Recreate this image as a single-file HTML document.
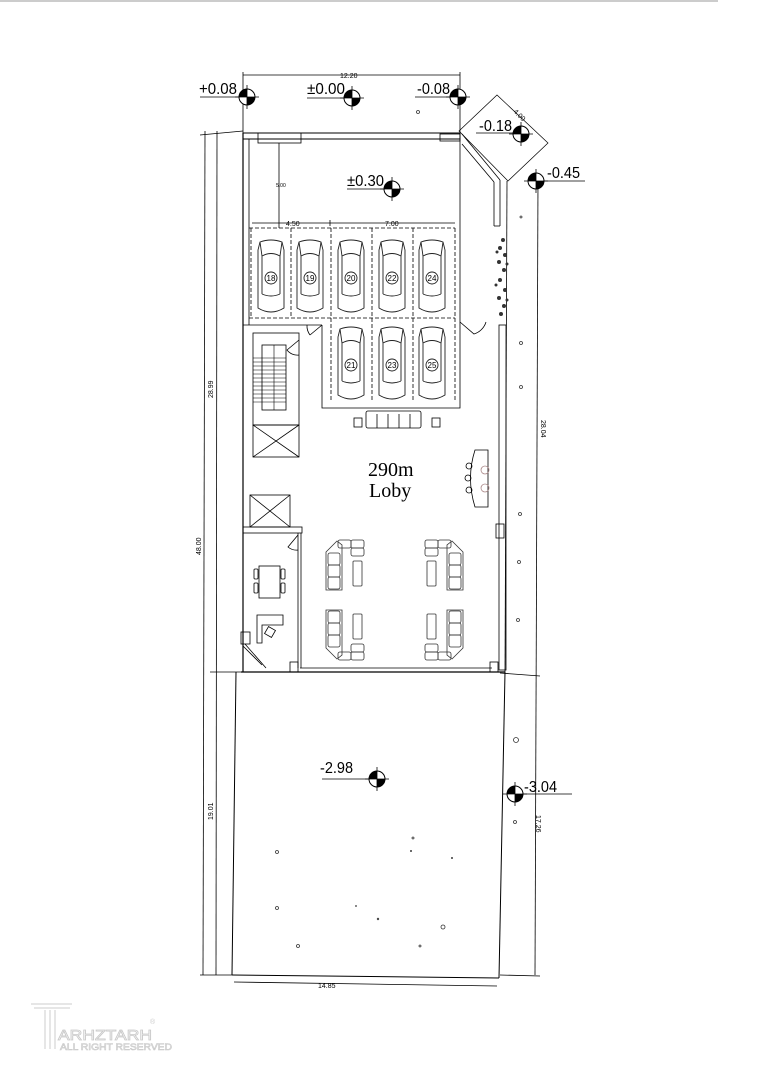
<!DOCTYPE html>
<html><head><meta charset="utf-8"><style>
html,body{margin:0;padding:0;background:#fff;}
svg{display:block;}
text{font-family:"Liberation Sans",sans-serif;fill:#000;}
</style></head><body>
<svg width="764" height="1080" viewBox="0 0 764 1080" xmlns="http://www.w3.org/2000/svg">
<defs>
<g id="car" fill="none" stroke="#222" stroke-width="0.9">
<path d="M-11,-36 Q0,-40 11,-36 L13,-28 L13,30 Q0,38 -13,30 L-13,-28 Z"/>
<path d="M-9,-22 Q0,-27 9,-22 M-9,-22 L-9,16 M9,-22 L9,16 M-9,16 Q0,20 9,16"/>
<path d="M-11,-36 L-9,-22 M11,-36 L9,-22"/>
<circle cx="0" cy="0" r="6"/>
</g>
<g id="mk">
<circle cx="0" cy="0" r="8" fill="#fff" stroke="#000" stroke-width="1"/>
<path d="M0,0 L0,-8 A8,8 0 0 0 -8,0 Z" fill="#000"/>
<path d="M0,0 L0,8 A8,8 0 0 0 8,0 Z" fill="#000"/>
<line x1="0" y1="-12" x2="0" y2="12" stroke="#000" stroke-width="0.8"/>
<line x1="-12" y1="0" x2="12" y2="0" stroke="#000" stroke-width="0.8"/>
</g>
<g id="sofa" fill="none" stroke="#333" stroke-width="0.8">
<path d="M326,552 L337,541 L342,545 L342,590 L326,590 Z"/>
<rect x="328" y="553" width="12" height="12" rx="2"/>
<rect x="328" y="565" width="12" height="12" rx="2"/>
<rect x="328" y="577" width="12" height="12" rx="2"/>
<rect x="338" y="540" width="13" height="8" rx="2"/>
<rect x="351" y="540" width="13" height="8" rx="2"/>
<rect x="351" y="548" width="13" height="8" rx="2"/>
<rect x="353" y="561" width="9" height="25" rx="1"/>
</g>
</defs>

<line x1="0" y1="1" x2="718" y2="1" stroke="#999" stroke-width="1"/>

<g fill="none" stroke="#000" stroke-width="0.8">
<line x1="243" y1="75" x2="460" y2="75"/>
<line x1="243" y1="72" x2="243" y2="133"/>
<line x1="460" y1="72" x2="460" y2="133"/>
<line x1="205" y1="131" x2="203" y2="975"/>
<line x1="217" y1="131" x2="216" y2="975"/>
<line x1="200" y1="135" x2="243" y2="131"/>
<line x1="210" y1="672" x2="243" y2="672"/>
<line x1="200" y1="975" x2="232" y2="975"/>
<line x1="538" y1="180" x2="535" y2="975"/>
<line x1="500" y1="975" x2="540" y2="976"/>
<line x1="500" y1="673" x2="540" y2="676"/>
<line x1="234" y1="982" x2="497" y2="986"/>
<path d="M459,131 L497,95 L548,143 L508,181 Z" stroke-width="0.7"/>
<rect x="243" y="133" width="217" height="6" stroke-width="1"/>
<line x1="243" y1="133" x2="243" y2="672" stroke-width="1.2"/>
<line x1="249" y1="139" x2="249" y2="325"/>
<line x1="460" y1="139" x2="460" y2="320"/>
<line x1="462" y1="134" x2="500" y2="180"/>
<line x1="462" y1="144" x2="494" y2="182"/>
<line x1="500" y1="180" x2="500" y2="226"/>
<line x1="494" y1="182" x2="494" y2="226"/>
<line x1="494" y1="226" x2="500" y2="226"/>
<line x1="507" y1="181" x2="505" y2="672"/>
<rect x="499" y="325" width="7" height="345"/>
<rect x="258" y="133" width="43" height="10"/>
<rect x="440" y="134" width="20" height="7"/>
<line x1="241" y1="672" x2="505" y2="672" stroke-width="1.2"/>
<line x1="300" y1="668" x2="492" y2="668"/>
<line x1="236" y1="672" x2="232" y2="975" stroke-width="1"/>
<line x1="505" y1="672" x2="499" y2="978" stroke-width="1"/>
<line x1="232" y1="975" x2="499" y2="978" stroke-width="1"/>
<line x1="249" y1="228" x2="455" y2="228" stroke-dasharray="4,2"/>
<line x1="249" y1="318" x2="455" y2="318" stroke-dasharray="4,2"/>
<line x1="455" y1="228" x2="455" y2="402" stroke-dasharray="4,2"/>
<line x1="251" y1="228" x2="251" y2="318" stroke-dasharray="4,2"/>
<line x1="291" y1="228" x2="291" y2="318" stroke-dasharray="4,2"/>
<line x1="331" y1="228" x2="331" y2="402" stroke-dasharray="4,2"/>
<line x1="372" y1="228" x2="372" y2="402" stroke-dasharray="4,2"/>
<line x1="413" y1="228" x2="413" y2="402" stroke-dasharray="4,2"/>
<path d="M322,325 L322,408 L460,408 L460,320"/>
<line x1="252" y1="223" x2="455" y2="223"/>
<line x1="330" y1="220" x2="330" y2="226"/>
<line x1="279" y1="143" x2="279" y2="228"/>
<line x1="243" y1="325" x2="322" y2="325"/>
<rect x="253" y="333" width="46" height="92"/>
<rect x="262" y="345" width="24" height="65"/>
<rect x="253" y="425" width="46" height="32"/>
<line x1="253" y1="425" x2="299" y2="457"/><line x1="299" y1="425" x2="253" y2="457"/>
<rect x="250" y="495" width="40" height="32"/>
<line x1="250" y1="495" x2="290" y2="527"/><line x1="290" y1="495" x2="250" y2="527"/>
<rect x="243" y="527" width="59" height="6"/>
<line x1="298" y1="533" x2="298" y2="668"/>
<line x1="301" y1="533" x2="301" y2="668"/>
<path d="M322,325 L310,335 M310,335 A15,15 0 0 1 307,325"/>
<path d="M299,340 L287,350 A13,13 0 0 0 299,355"/>
<path d="M298,535 L288,547 A13,13 0 0 0 298,550"/>
<path d="M460,322 L474,334 A18,18 0 0 0 486,322"/>
<rect x="259" y="566" width="21" height="32"/>
<rect x="254" y="569" width="4" height="10" rx="1"/><rect x="254" y="583" width="4" height="10" rx="1"/>
<rect x="281" y="569" width="4" height="10" rx="1"/><rect x="281" y="583" width="4" height="10" rx="1"/>
<path d="M257,615 L283,615 L283,625 L262,625 L262,643 L257,643 Z"/>
<rect x="266" y="628" width="8" height="8" transform="rotate(30 270 632)"/>
<rect x="241" y="632" width="9" height="12"/>
<path d="M243,646 L262,665 M245,644 L266,668"/>
<rect x="290" y="662" width="8" height="10"/>
<rect x="490" y="662" width="8" height="10"/>
<rect x="496" y="524" width="8" height="14"/>
<rect x="366" y="411" width="55" height="17" rx="2"/>
<line x1="377" y1="414" x2="377" y2="428"/><line x1="388" y1="414" x2="388" y2="428"/><line x1="399" y1="414" x2="399" y2="428"/><line x1="410" y1="414" x2="410" y2="428"/>
<rect x="354" y="418" width="8" height="9"/><rect x="432" y="418" width="8" height="9"/>
<path d="M475,450 L488,450 L488,507 L475,507 Q466,478 475,450 Z"/>
<circle cx="469" cy="466" r="3"/><circle cx="468" cy="478" r="3"/><circle cx="469" cy="490" r="3"/>
<circle cx="485" cy="470" r="4" stroke="#a88"/><circle cx="485" cy="488" r="4" stroke="#a88"/>
</g>
<g stroke="#000" stroke-width="0.6">
<line x1="253" y1="358" x2="286" y2="358"/><line x1="253" y1="362" x2="286" y2="362"/><line x1="253" y1="366" x2="286" y2="366"/><line x1="253" y1="370" x2="286" y2="370"/><line x1="253" y1="374" x2="286" y2="374"/><line x1="253" y1="378" x2="286" y2="378"/><line x1="253" y1="382" x2="286" y2="382"/><line x1="253" y1="386" x2="286" y2="386"/><line x1="253" y1="390" x2="286" y2="390"/><line x1="253" y1="394" x2="286" y2="394"/><line x1="253" y1="398" x2="286" y2="398"/><line x1="253" y1="402" x2="286" y2="402"/>
<line x1="274" y1="345" x2="274" y2="410"/>
</g>

<use href="#sofa"/>
<use href="#sofa" transform="translate(789,0) scale(-1,1)"/>
<use href="#sofa" transform="translate(0,1200) scale(1,-1)"/>
<use href="#sofa" transform="translate(789,1200) scale(-1,-1)"/>

<use href="#car" x="271" y="278"/><use href="#car" x="310" y="278"/><use href="#car" x="351" y="278"/><use href="#car" x="392" y="278"/><use href="#car" x="432" y="278"/>
<use href="#car" x="351" y="365"/><use href="#car" x="392" y="365"/><use href="#car" x="432" y="365"/>
<g font-size="8" text-anchor="middle">
<text x="271" y="281">18</text><text x="310" y="281">19</text><text x="351" y="281">20</text><text x="392" y="281">22</text><text x="432" y="281">24</text>
<text x="351" y="368">21</text><text x="392" y="368">23</text><text x="432" y="368">25</text>
</g>

<g fill="#333">
<circle cx="503" cy="240" r="2"/><circle cx="500" cy="248" r="2"/><circle cx="505" cy="255" r="2"/><circle cx="499" cy="262" r="2"/><circle cx="504" cy="270" r="2"/><circle cx="500" cy="280" r="2"/><circle cx="505" cy="290" r="2"/><circle cx="499" cy="298" r="2"/><circle cx="504" cy="306" r="2"/><circle cx="501" cy="314" r="2"/>
<circle cx="497" cy="252" r="1.5"/><circle cx="507" cy="264" r="1.5"/><circle cx="496" cy="285" r="1.5"/><circle cx="507" cy="300" r="1.5"/>
</g>
<g fill="none" stroke="#333" stroke-width="0.8">
<circle cx="418" cy="112" r="1.5"/><circle cx="521" cy="217" r="1"/><circle cx="521" cy="343" r="1.5"/><circle cx="521" cy="387" r="1.5"/><circle cx="520" cy="514" r="1.5"/><circle cx="519" cy="562" r="1.5"/><circle cx="518" cy="620" r="1.5"/><circle cx="516" cy="740" r="2.5"/><circle cx="515" cy="822" r="1.5"/><circle cx="277" cy="852" r="1.5"/><circle cx="277" cy="908" r="1.5"/><circle cx="298" cy="946" r="1.5"/><circle cx="443" cy="927" r="2"/><circle cx="420" cy="946" r="1"/><circle cx="413" cy="838" r="1"/><circle cx="411" cy="851" r="0.6"/><circle cx="452" cy="858" r="0.6"/><circle cx="378" cy="919" r="0.8"/><circle cx="356" cy="906" r="0.5"/>
</g>

<g stroke="#000" stroke-width="0.8">
<line x1="200" y1="97" x2="240" y2="97"/>
<line x1="307" y1="98" x2="345" y2="98"/>
<line x1="415" y1="97" x2="450" y2="97"/>
<line x1="476" y1="133" x2="515" y2="133"/>
<line x1="347" y1="189" x2="385" y2="189"/>
<line x1="536" y1="181" x2="585" y2="181"/>
<line x1="322" y1="779" x2="370" y2="779"/>
<line x1="520" y1="794" x2="572" y2="794"/>
</g>
<use href="#mk" x="247" y="97"/>
<use href="#mk" x="352" y="98"/>
<use href="#mk" x="458" y="97"/>
<use href="#mk" x="521" y="134"/>
<use href="#mk" x="392" y="189"/>
<use href="#mk" x="536" y="181"/>
<use href="#mk" x="377" y="779"/>
<use href="#mk" x="515" y="794"/>
<g font-size="16">
<text x="199" y="94" textLength="38" lengthAdjust="spacingAndGlyphs">+0.08</text>
<text x="307" y="94" textLength="38" lengthAdjust="spacingAndGlyphs">±0.00</text>
<text x="417" y="94" textLength="33" lengthAdjust="spacingAndGlyphs">-0.08</text>
<text x="479" y="131" textLength="33" lengthAdjust="spacingAndGlyphs">-0.18</text>
<text x="347" y="186" textLength="37" lengthAdjust="spacingAndGlyphs">±0.30</text>
<text x="547" y="178" textLength="33" lengthAdjust="spacingAndGlyphs">-0.45</text>
<text x="320" y="773" textLength="33" lengthAdjust="spacingAndGlyphs">-2.98</text>
<text x="524" y="792" textLength="33" lengthAdjust="spacingAndGlyphs">-3.04</text>
</g>

<g font-size="7" fill="#222">
<text x="340" y="78">12.20</text>
<text x="286" y="226">4.50</text>
<text x="385" y="226">7.00</text>
<text x="276" y="187" font-size="5">5.00</text>
<text x="318" y="988">14.85</text>
<text transform="translate(213,398) rotate(-90)">28.99</text>
<text transform="translate(201,555) rotate(-90)">48.00</text>
<text transform="translate(213,820) rotate(-90)">19.01</text>
<text transform="translate(541,420) rotate(90)">28.04</text>
<text transform="translate(536,815) rotate(90)">17.26</text>
<text transform="translate(513,112) rotate(45)">4.00</text>
</g>

<text x="368" y="476" font-size="20" style="font-family:'Liberation Serif',serif">290m</text>
<text x="369" y="497" font-size="20" style="font-family:'Liberation Serif',serif">Loby</text>

<g fill="none" stroke="#ccc" stroke-width="1">
<line x1="31" y1="1004" x2="72" y2="1004"/><line x1="34" y1="1008" x2="70" y2="1008"/>
<line x1="45" y1="1010" x2="45" y2="1049"/><line x1="50" y1="1010" x2="50" y2="1049"/><line x1="55" y1="1010" x2="55" y2="1049"/>
</g>
<text x="58" y="1040" font-size="15" textLength="94" lengthAdjust="spacingAndGlyphs" stroke="#c8c8c8" stroke-width="0.8" style="fill:#fff">ARHZTARH</text>
<text x="60" y="1050" font-size="9" textLength="112" lengthAdjust="spacingAndGlyphs" stroke="#c8c8c8" stroke-width="0.6" style="fill:#fff">ALL RIGHT RESERVED</text>
<text x="150" y="1024" font-size="7" style="fill:#ccc">®</text>
</svg>
</body></html>
